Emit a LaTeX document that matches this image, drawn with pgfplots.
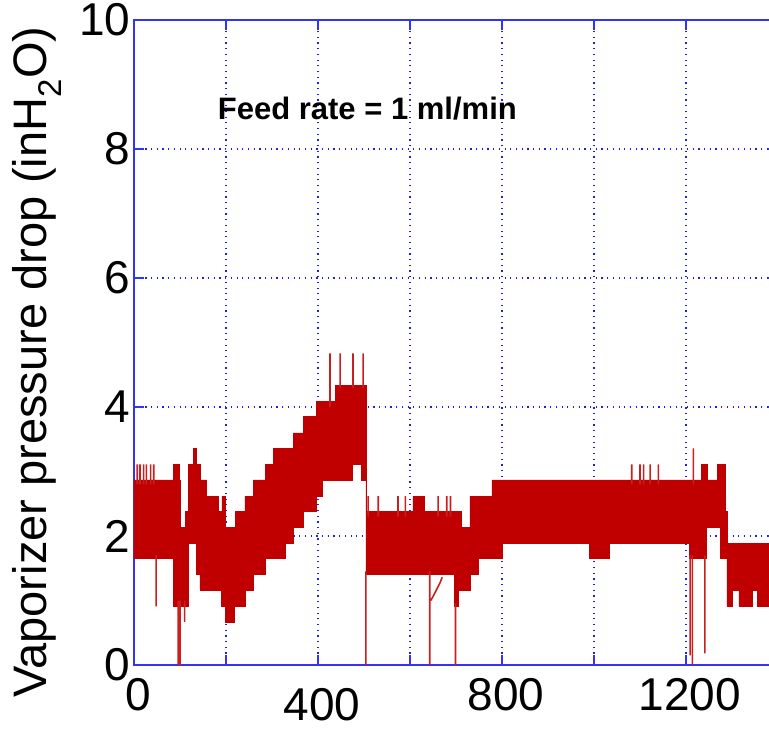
\documentclass[border=0pt]{standalone}
\usepackage{fontspec}
\setmainfont{Liberation Sans}
\usepackage{pgfplots}
\pgfplotsset{compat=1.18}
\definecolor{axblue}{RGB}{50,50,250}
\definecolor{gridblue}{RGB}{30,30,230}
\definecolor{bandred}{RGB}{192,0,0}
\definecolor{spikered}{RGB}{205,30,30}
\begin{document}
\begin{tikzpicture}
\begin{axis}[name=ax, scale only axis, width=644pt, height=645pt,
  xmin=0, xmax=1400, ymin=0, ymax=10,
  xtick={0,200,...,1400}, xticklabels={0,,,,800,,1200,},
  extra x ticks={400}, extra x tick labels={400},
  extra x tick style={tick label style={inner sep=0pt, yshift=-13pt}},
  ytick={0,2,...,10},
  grid=major,
  major grid style={gridblue, line width=1.2pt, dash pattern=on 1.2pt off 4.5pt},
  axis line style={axblue, line width=1.8pt},
  tick style={axblue, line width=1.5pt},
  major tick length=10pt,
  tick align=inside,
  ticklabel style={font=\fontsize{46}{50}\selectfont},
  xticklabel style={yshift=-10pt, xshift=4pt},
  /pgf/number format/assume math mode=true,
  ylabel={Vaporizer pressure drop (inH\textsubscript{2}O)},
  ylabel style={at={(axis description cs:-0.1506,0.47)}, anchor=center, font=\fontsize{47}{52}\selectfont},
  unbounded coords=jump,
]
\addplot[draw=bandred, fill=bandred, line width=0.5pt] table {
0 2.87
86 2.87
86 3.11
99 3.11
99 2.87
101 2.87
101 2.13
111 2.13
111 2.38
118 2.38
118 3.11
129 3.11
129 3.36
136 3.36
136 3.11
143 3.11
143 2.87
158 2.87
158 2.62
183 2.62
183 2.38
191 2.38
191 2.62
198 2.62
198 2.13
221 2.13
221 2.38
241 2.38
241 2.62
259 2.62
259 2.87
285 2.87
285 3.11
303 3.11
303 3.36
346 3.36
346 3.60
368 3.60
368 3.85
397 3.85
397 4.09
437 4.09
437 4.34
504 4.34
504 2.38
606 2.38
606 2.62
632 2.62
632 2.38
712 2.38
712 2.13
730 2.13
730 2.62
778 2.62
778 2.87
1234 2.87
1234 3.11
1246 3.11
1246 2.87
1268 2.87
1268 3.11
1285 3.11
1285 2.38
1289 2.38
1289 1.89
1400 1.89
1400 0.91
1355 0.91
1355 1.16
1345 1.16
1345 0.91
1315 0.91
1315 1.16
1300 1.16
1300 0.91
1289 0.91
1289 1.65
1275 1.65
1275 2.13
1243 2.13
1243 1.65
1208 1.65
1208 1.89
1034 1.89
1034 1.65
990 1.65
990 1.89
800 1.89
800 1.65
748 1.65
748 1.40
730 1.40
730 1.16
705 1.16
705 0.91
697 0.91
697 1.40
504 1.40
504 2.87
495 2.87
495 3.11
474 3.11
474 2.87
410 2.87
410 2.62
397 2.62
397 2.38
368 2.38
368 2.13
346 2.13
346 1.89
328 1.89
328 1.65
285 1.65
285 1.40
259 1.40
259 1.16
241 1.16
241 0.91
218 0.91
218 0.67
198 0.67
198 0.91
190 0.91
190 1.16
143 1.16
143 1.40
136 1.40
136 1.89
118 1.89
118 0.91
86 0.91
86 1.65
0 1.65
} -- cycle;
\addplot[draw=spikered, line width=1.6pt] table {
7 2.80
7 3.11
7 nan
13 2.80
13 3.11
13 nan
21 2.80
21 3.11
21 nan
27 2.80
27 3.11
27 nan
36 2.80
36 3.11
36 nan
43 2.80
43 3.11
43 nan
48 1.70
48 0.91
48 nan
96 1.00
96 0
96 nan
100 1.00
100 0
100 nan
110 1.00
110 0.67
110 nan
426 4.00
426 4.83
426 nan
448 4.30
448 4.83
448 nan
476 4.30
476 4.83
476 nan
498 4.30
498 4.83
498 nan
504 1.45
504 0
504 nan
509 2.30
509 2.62
509 nan
531 2.30
531 2.62
531 nan
574 2.30
574 2.62
574 nan
590 2.30
590 2.62
590 nan
643 1.45
643 0
643 nan
645 1.00
650 1.06
655 1.13
660 1.20
665 1.27
670 1.36
670 nan
661 2.30
661 2.62
661 nan
680 2.30
680 2.62
680 nan
688 2.30
688 2.62
688 nan
699 0.95
699 0
699 nan
1082 2.80
1082 3.11
1082 nan
1100 2.80
1100 3.11
1100 nan
1108 2.80
1108 3.11
1108 nan
1122 2.80
1122 3.11
1122 nan
1140 2.80
1140 3.11
1140 nan
1209 1.70
1209 0.15
1209 nan
1214 1.70
1214 0
1214 nan
1216 2.80
1216 3.36
1216 nan
1241 1.70
1241 0.18
1241 nan
};
\node[anchor=base west, inner sep=0pt, font=\bfseries\fontsize{31}{36}\selectfont] at (axis cs:182,8.45) {Feed rate = 1 ml/min};
\end{axis}
\pgfresetboundingbox
\path[use as bounding box] (ax.south west) ++(-134pt,-64pt) rectangle ++(769pt,729pt);
\end{tikzpicture}
\end{document}
